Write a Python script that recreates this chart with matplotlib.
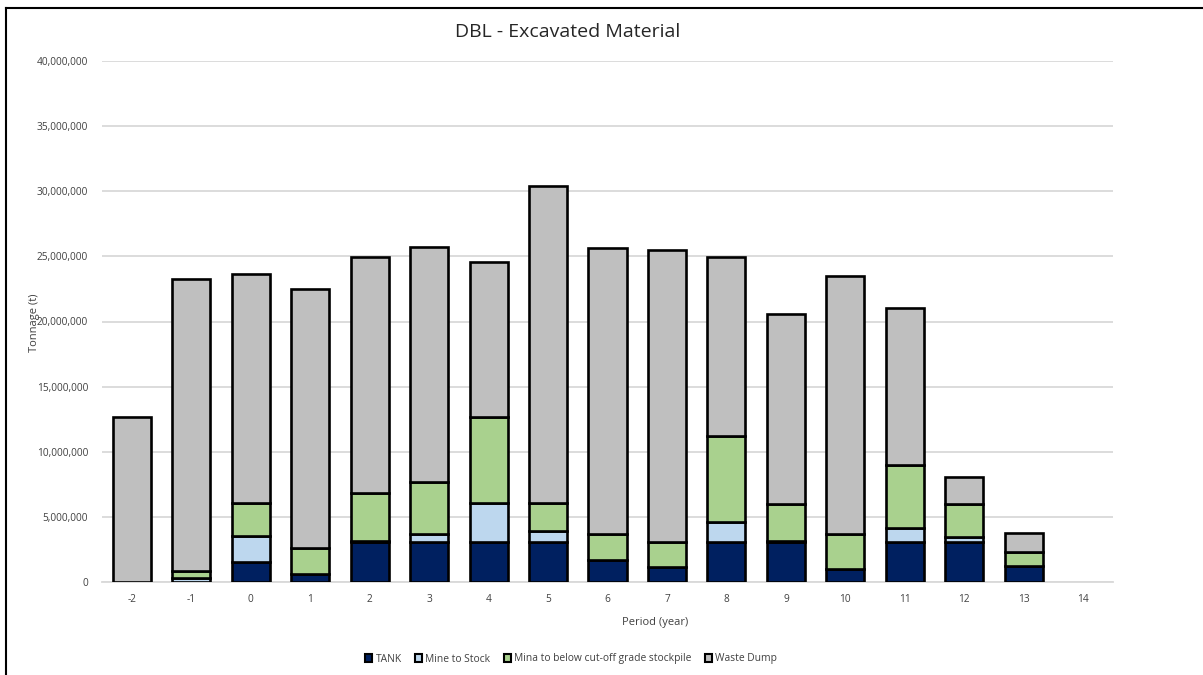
import matplotlib
matplotlib.use("Agg")
import matplotlib.pyplot as plt
import numpy as np
from matplotlib.patches import Patch
from matplotlib.lines import Line2D
from matplotlib.ticker import FuncFormatter, MultipleLocator

plt.rcParams['font.family'] = ['Open Sans', 'DejaVu Sans']

periods = ["-2", "-1", "0", "1", "2", "3", "4", "5", "6", "7", "8", "9", "10", "11", "12", "13", "14"]
tank = [0, 0, 1.56, 0.61, 3.1, 3.1, 3.1, 3.1, 1.69, 1.18, 3.1, 3.1, 1.02, 3.1, 3.1, 1.23, 0]
mine_to_stock = [0, 0.3, 1.97, 0, 0.08, 0.58, 2.99, 0.81, 0, 0, 1.53, 0.07, 0, 1.07, 0.38, 0, 0]
below_cutoff = [0, 0.57, 2.56, 1.97, 3.65, 3.97, 6.6, 2.13, 1.99, 1.92, 6.6, 2.82, 2.66, 4.81, 2.51, 1.1, 0]
totals = [12.69, 23.3, 23.64, 22.51, 24.92, 25.71, 24.56, 30.42, 25.61, 25.48, 24.92, 20.54, 23.48, 21.0, 8.08, 3.79, 0]

series_names = ["TANK", "Mine to Stock", "Mina to below cut-off grade stockpile", "Waste Dump"]
colors = ["#002060", "#BDD7EE", "#A9D18E", "#BFBFBF"]

M = 1e6
tank_a = np.array(tank) * M
stock_a = np.array(mine_to_stock) * M
below_a = np.array(below_cutoff) * M
waste_a = np.clip(np.array(totals) * M - tank_a - stock_a - below_a, 0, None)

fig = plt.figure(figsize=(12.03, 6.75), dpi=100)
ax = fig.add_axes([102/1203, 1-582/675, (1113-102)/1203, (582-61)/675])

x = np.arange(len(periods))
w = 0.64
bottom = np.zeros(len(periods))
for vals, c in zip([tank_a, stock_a, below_a, waste_a], colors):
    m = vals > 0
    ax.bar(x[m], vals[m], w, bottom=bottom[m], color=c, edgecolor="black",
           linewidth=1.9, zorder=3)
    bottom = bottom + vals

ax.set_xlim(-0.5, len(periods) - 0.5)
ax.set_ylim(0, 40e6)
ax.yaxis.set_major_locator(MultipleLocator(5e6))
ax.yaxis.set_major_formatter(FuncFormatter(lambda v, p: f"{int(v):,}"))
ax.set_xticks(x)
ax.set_xticklabels(periods)
ax.grid(axis="y", color="#D9D9D9", linewidth=1.3, zorder=0)
for s in ["top", "right", "left"]:
    ax.spines[s].set_visible(False)
ax.spines["bottom"].set_color("#D9D9D9")
ax.spines["bottom"].set_linewidth(1.3)
ax.tick_params(axis="both", length=0, labelsize=7.3, colors="#404040")
ax.tick_params(axis="x", pad=9)
ax.tick_params(axis="y", pad=10)

ax.set_xlabel("Period (year)", fontsize=8, color="#404040")
ax.xaxis.set_label_coords((655-102)/(1113-102), -(622-582)/(582-61))
ax.xaxis.label.set_va("center")
ax.set_ylabel("Tonnage (t)", fontsize=8, color="#404040")
ax.yaxis.set_label_coords(-(102-34)/(1113-102), (582-323)/(582-61))
ax.yaxis.label.set_va("center")

fig.text(568/1203, 1-32/675, "DBL - Excavated Material", ha="center", va="center",
         fontsize=14, color="#262626")

handles = [Patch(facecolor=c, edgecolor="black", linewidth=1.5) for c in colors]
leg = fig.legend(handles, series_names, loc="center", ncol=4,
                 bbox_to_anchor=(571/1203, 1-659/675), frameon=False,
                 fontsize=7.4, handlelength=0.7, handleheight=0.7,
                 handletextpad=0.3, columnspacing=1.3)
for t in leg.get_texts():
    t.set_color("#404040")

# outer chart frame (partially cropped in the reference)
fig.add_artist(Line2D([6/1203, 6/1203], [0, 1-8/675], color="black", linewidth=1.5,
                      transform=fig.transFigure))
fig.add_artist(Line2D([6/1203, 1.0], [1-8/675, 1-8/675], color="black", linewidth=1.5,
                      transform=fig.transFigure))

fig.savefig("out.png", dpi=100)
